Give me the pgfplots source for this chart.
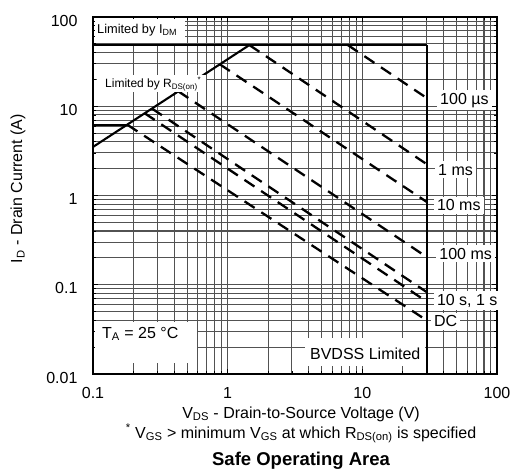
\documentclass[border=0pt]{standalone}
\usepackage{fontspec}
\setmainfont{Liberation Sans}
\usepackage{pgfplots}
\pgfplotsset{compat=1.18}

\tikzset{
  pulse/.style={mark=none, line width=2.3pt, dash pattern=on 12pt off 8pt},
  lab/.style={anchor=base west, fill=white, inner xsep=3pt, inner ysep=3pt,
    xshift=-3pt, font=\fontsize{16}{19}\selectfont},
}

\begin{document}
\begin{tikzpicture}
\useasboundingbox (-93pt,-99pt) rectangle (426pt,374pt);
\begin{axis}[
    at={(0,0)}, anchor=south west,
    scale only axis, width=404pt, height=357pt,
    xmode=log, ymode=log,
    xmin=0.1, xmax=100, ymin=0.01, ymax=100,
    xtick={0.1,1,10,100}, xticklabels={0.1,1,10,100},
    ytick={0.01,0.1,1,10,100}, yticklabels={0.01,0.1,1,10,100},
    grid=both,
    major grid style={black!68, line width=1.1pt},
    minor grid style={black!68, line width=1.1pt},
    axis line style={line width=1.4pt},
    tick style={black, line width=0.8pt},
    tick align=inside,
    major tick length=5pt, minor tick length=3pt,
    /pgf/number format/assume math mode=true,
    every tick label/.append style={font=\fontsize{16}{19}\selectfont},
    xticklabel style={yshift=-10pt},
    yticklabel style={xshift=-12pt, yshift=-3.5pt},
    clip=false,
]

% limits
\addplot[mark=none, line width=2.1pt] coordinates {(0.1,48.5) (30,48.5)};
\addplot[mark=none, line width=2.1pt] coordinates {(30,48.5) (30,0.01)};
\addplot[mark=none, line width=2.1pt] coordinates {(0.1,6.2) (0.18,6.2)};
\addplot[mark=none, line width=2.1pt] coordinates {(0.1,3.5) (1.45,48.5)};

% pulse lines
\addplot[pulse] coordinates {(7.8,48.5) (30,12.4)};
\addplot[pulse] coordinates {(1.45,48.5) (30,2.25)};
\addplot[pulse] coordinates {(0.875,29.5) (30,0.85)};
\addplot[pulse] coordinates {(0.43,14.7) (30,0.205)};
\addplot[pulse] coordinates {(0.274,9.42) (30,0.083)};
\addplot[pulse] coordinates {(0.242,8.35) (30,0.065)};
\addplot[pulse] coordinates {(0.18,6.2) (30,0.04)};

% boxes
\fill[white] (rel axis cs:0.006,0.928) rectangle (rel axis cs:0.228,0.995);
\node[anchor=west, font=\fontsize{12.8}{15}\selectfont, inner sep=0pt]
  at (rel axis cs:0.0099,0.9636) {Limited by I\textsubscript{DM}};
\fill[white] (rel axis cs:0.010,0.790) rectangle (rel axis cs:0.280,0.8375);
\node[anchor=west, font=\fontsize{12}{14}\selectfont, inner sep=0pt]
  at (rel axis cs:0.0297,0.8123) {Limited by R\textsubscript{DS(on)}\textsuperscript{*}};
\fill[white] (rel axis cs:0.006,0.031) rectangle (rel axis cs:0.257,0.1457);
\node[anchor=base west, font=\fontsize{16}{19}\selectfont, inner sep=0pt]
  at (rel axis cs:0.0223,0.1008) {T\textsubscript{A} = 25 °C};
\fill[white] (rel axis cs:0.525,0.0224) rectangle (rel axis cs:0.822,0.1008);
\node[anchor=base west, font=\fontsize{16}{19}\selectfont, inner sep=0pt]
  at (rel axis cs:0.537,0.042) {BVDSS Limited};

\node[lab] at (rel axis cs:0.859,0.756) {100 µs};
\node[lab] at (rel axis cs:0.854,0.557) {1 ms};
\node[lab] at (rel axis cs:0.851,0.4566) {10 ms};
\node[lab] at (rel axis cs:0.857,0.322) {100 ms};
\node[lab] at (rel axis cs:0.851,0.193) {10 s, 1 s};
\node[lab] at (rel axis cs:0.844,0.1317) {DC};

% axis texts
\node[xshift=-75pt, yshift=7pt, rotate=90, font=\fontsize{16}{19}\selectfont]
  at (rel axis cs:0,0.5) {I\textsubscript{D} - Drain Current (A)};
\node[anchor=base, yshift=-44pt, font=\fontsize{16}{19}\selectfont]
  at (rel axis cs:0.515,0) {V\textsubscript{DS} - Drain-to-Source Voltage (V)};
\node[anchor=base, yshift=-64pt, font=\fontsize{16}{19}\selectfont]
  at (rel axis cs:0.515,0) {\textsuperscript{*} V\textsubscript{GS} > minimum V\textsubscript{GS} at which R\textsubscript{DS(on)} is specified};
\node[anchor=base, yshift=-91pt, font=\fontsize{18.5}{22}\selectfont\bfseries]
  at (rel axis cs:0.515,0) {Safe Operating Area};
\end{axis}
\end{tikzpicture}
\end{document}
